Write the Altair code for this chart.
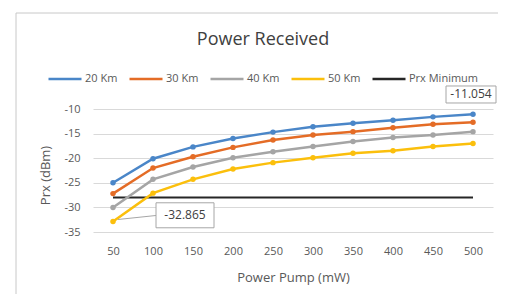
import altair as alt
import pandas as pd

# ---- data ----
pump = [50, 100, 150, 200, 250, 300, 350, 400, 450, 500]
series_names = ["20 Km", "30 Km", "40 Km", "50 Km"]
prx_20 = [-25.0, -20.1, -17.7, -16.0, -14.7, -13.6, -12.9, -12.3, -11.6, -11.054]
prx_30 = [-27.2, -22.0, -19.7, -17.8, -16.3, -15.3, -14.6, -13.8, -13.1, -12.7]
prx_40 = [-30.0, -24.3, -21.8, -19.9, -18.7, -17.6, -16.6, -15.8, -15.3, -14.6]
prx_50 = [-32.865, -27.1, -24.3, -22.2, -20.9, -19.9, -19.0, -18.5, -17.6, -17.0]
min_name = "Prx Minimum"
prx_min = -28.0
y_ticks = [-35, -30, -25, -20, -15, -10]
label_pump = [500, 50]
label_value = [-11.054, -32.865]
label_text = ["-11.054", "-32.865"]

colors = ["#4a86c8", "#e46c26", "#a5a5a5", "#fbbf0c", "#262626"]
FONT = "Open Sans"
TXT = "#595959"

rows = []
for name, vals in zip(series_names, [prx_20, prx_30, prx_40, prx_50]):
    for p, v in zip(pump, vals):
        rows.append({"pump": p, "value": v, "series": name})
df = pd.DataFrame(rows)
df_min = pd.DataFrame({"pump": pump, "value": [prx_min] * len(pump), "series": min_name})

# callout box shapes (symbol paths, unit = 50px, anchored at the data point)
box_top = "M-0.54,-0.564L0.46,-0.564L0.46,-0.224L-0.54,-0.224Z"
box_right = "M0.1,-0.04L0.86,-0.12M0.86,-0.374L2.02,-0.374L2.02,0.126L0.86,0.126Z"
df_lab = pd.DataFrame({"pump": label_pump, "value": label_value,
                       "label": label_text, "box": [box_top, box_right]})

x_enc = alt.X("pump:O", scale=alt.Scale(type="point", padding=0.5),
              axis=alt.Axis(title="Power Pump (mW)", labelAngle=0, domain=False,
                            ticks=False, grid=False, labelPadding=13,
                            titleX=200, titleY=45, titleAlign="center",
                            titleBaseline="middle"))
y_enc = alt.Y("value:Q", scale=alt.Scale(domain=[-35, -10], nice=False, zero=False),
              axis=alt.Axis(values=y_ticks, title="Prx (dBm)", domain=False, ticks=False,
                            grid=True, gridColor="#d9d9d9", gridWidth=1,
                            labelPadding=13, labelExpr="'' + datum.value",
                            titleX=-48, titleY=66, titleAlign="center",
                            titleBaseline="middle"))
color_enc = alt.Color("series:N",
                      scale=alt.Scale(domain=series_names + [min_name], range=colors),
                      legend=alt.Legend(title=None, orient="none", legendX=-46, legendY=-48,
                                        direction="horizontal", symbolType="stroke",
                                        symbolSize=1089, symbolStrokeWidth=2.5,
                                        labelFont=FONT, labelFontSize=11, labelColor=TXT,
                                        columnPadding=6, labelOffset=2, padding=0))

frame = alt.Chart(pd.DataFrame({"a": [0]})).mark_rect(
    fill=None, stroke="#c8c8c8", strokeWidth=1
).encode(x=alt.value(-77), x2=alt.value(500), y=alt.value(-96), y2=alt.value(300))

min_line = alt.Chart(df_min).mark_line(strokeWidth=2).encode(
    x=x_enc, y=y_enc, color=color_enc)

lines = alt.Chart(df).mark_line(
    strokeWidth=2.5, point=alt.OverlayMarkDef(filled=True, size=30, opacity=1)
).encode(x=x_enc, y=y_enc, color=color_enc,
         order=alt.Order("pump:Q"))

boxes = alt.Chart(df_lab).mark_point(
    filled=True, fill="white", stroke="#a6a6a6", strokeWidth=1, size=10000, opacity=1
).encode(x=x_enc, y=y_enc, shape=alt.Shape("box:N", scale=None))

lab_top = alt.Chart(df_lab).transform_filter("datum.pump == 500").mark_text(
    font=FONT, fontSize=12, color="#404040", dx=-2, dy=-20, baseline="middle"
).encode(x=x_enc, y=y_enc, text="label:N")
lab_right = alt.Chart(df_lab).transform_filter("datum.pump == 50").mark_text(
    font=FONT, fontSize=12, color="#404040", dx=72, dy=-6, baseline="middle"
).encode(x=x_enc, y=y_enc, text="label:N")

chart = alt.layer(frame, min_line, lines, boxes, lab_top, lab_right).properties(
    width=400, height=123,
    autosize=alt.AutoSizeParams(type="none"),
    padding={"left": 85, "top": 101, "right": 5, "bottom": 62},
    background="white",
    title=alt.TitleParams("Power Received", anchor="middle", frame="group", dx=-30,
                          dy=36, offset=0, font=FONT, fontSize=18, fontWeight="normal",
                          color="#404040"),
).configure_view(stroke=None).configure_axis(
    labelFont=FONT, labelFontSize=11, labelColor=TXT,
    titleFont=FONT, titleFontSize=13, titleColor=TXT, titleFontWeight="normal"
)

chart.save("out.html", embed_options={"renderer": "svg", "actions": False})
